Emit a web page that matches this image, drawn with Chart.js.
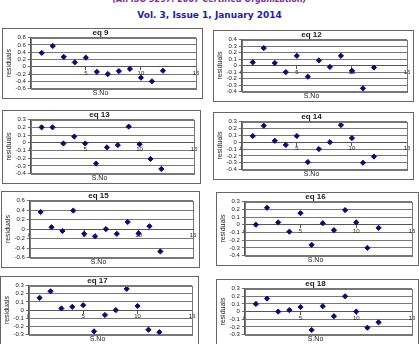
<!DOCTYPE html>
<html>
<head>
<meta charset="utf-8">
<script src="https://cdn.jsdelivr.net/npm/chart.js@4.4.0/dist/chart.umd.min.js"></script>
<style>
  body { margin: 0; width: 419px; height: 344px; overflow: hidden; background: #fff; position: relative; font-family: "DejaVu Sans", Verdana, sans-serif; }
  .hdr { position: absolute; left: 0; width: 419px; text-align: center; font-weight: bold; white-space: nowrap; }
  .box { position: absolute; border: 1px solid #666; background: #fff; box-sizing: border-box; }
  .box canvas { display: block; }
</style>
</head>
<body>
<div class="hdr" style="top:-5px;font-size:8px;color:#7b2c9c;font-style:italic">(An ISO 3297: 2007 Certified Organization)</div>
<div class="hdr" style="top:10px;font-size:9px;color:#1c1cb4">Vol. 3, Issue 1, January 2014</div>
<div id="panels"></div>
<script>
// serial numbers on the x axis
const sNo = [1, 2, 3, 4, 5, 6, 7, 8, 9, 10, 11, 12];
const xTicks = [0, 5, 10, 15];

// residuals per equation
const eq9 = [0.38, 0.57, 0.27, 0.12, 0.25, -0.14, -0.20, -0.12, -0.06, -0.30, -0.40, -0.11];
const eq12 = [0.05, 0.27, 0.04, -0.10, 0.15, -0.17, 0.08, -0.02, 0.15, -0.08, -0.35, -0.03];
const eq13 = [0.20, 0.20, -0.01, 0.08, -0.01, -0.27, -0.06, -0.03, 0.21, -0.02, -0.21, -0.34];
const eq14 = [0.09, 0.24, 0.02, -0.04, 0.09, -0.29, -0.10, 0.00, 0.25, 0.06, -0.30, -0.21];
const eq15 = [0.36, 0.04, -0.04, 0.39, -0.10, -0.15, 0.00, -0.10, 0.15, -0.09, 0.06, -0.47];
const eq16 = [0.00, 0.22, 0.03, -0.09, 0.15, -0.26, 0.02, -0.07, 0.19, 0.03, -0.30, -0.04];
const eq17 = [0.15, 0.23, 0.02, 0.04, 0.06, -0.26, -0.06, 0.00, 0.26, 0.05, -0.24, -0.27];
const eq18 = [0.10, 0.17, 0.00, 0.02, 0.06, -0.24, 0.07, -0.06, 0.20, 0.00, -0.21, -0.14];

// y axis ranges [min, max, step]
const yRanges = {
  eq9: [-0.6, 0.8, 0.2], eq12: [-0.4, 0.4, 0.1], eq13: [-0.4, 0.3, 0.1], eq14: [-0.4, 0.3, 0.1],
  eq15: [-0.6, 0.6, 0.2], eq16: [-0.4, 0.3, 0.1], eq17: [-0.3, 0.3, 0.1], eq18: [-0.3, 0.3, 0.1]
};

const panels = [
  { name: 'eq 9', key: 'eq9', values: eq9, box: [2, 28, 201, 71] },
  { name: 'eq 12', key: 'eq12', values: eq12, box: [213, 30, 201, 72] },
  { name: 'eq 13', key: 'eq13', values: eq13, box: [2, 110, 199, 74] },
  { name: 'eq 14', key: 'eq14', values: eq14, box: [213, 112, 201, 68] },
  { name: 'eq 15', key: 'eq15', values: eq15, box: [1, 191, 199, 77] },
  { name: 'eq 16', key: 'eq16', values: eq16, box: [216, 192, 203, 74] },
  { name: 'eq 17', key: 'eq17', values: eq17, box: [0, 276, 199, 69] },
  { name: 'eq 18', key: 'eq18', values: eq18, box: [216, 279, 203, 66] }
];

Chart.defaults.font.family = '"Liberation Sans", Arial, sans-serif';
Chart.defaults.color = '#222';
Chart.defaults.animation = false;

// thin grey frame round the plot area, like Excel
const plotFrame = {
  id: 'plotFrame',
  afterDraw(chart) {
    const a = chart.chartArea, ctx = chart.ctx;
    ctx.save();
    ctx.strokeStyle = '#777';
    ctx.lineWidth = 1;
    ctx.strokeRect(Math.round(a.left) + 0.5, Math.round(a.top) + 0.5, Math.round(a.right - a.left), Math.round(a.bottom - a.top));
    ctx.restore();
  }
};

const holder = document.getElementById('panels');
panels.forEach(p => {
  const [x, y, w, h] = p.box;
  const div = document.createElement('div');
  div.className = 'box';
  div.style.left = x + 'px';
  div.style.top = y + 'px';
  div.style.width = w + 'px';
  div.style.height = h + 'px';
  const cv = document.createElement('canvas');
  cv.width = w - 2;
  cv.height = h - 2;
  div.appendChild(cv);
  holder.appendChild(div);

  const [yMin, yMax, yStep] = yRanges[p.key];
  new Chart(cv.getContext('2d'), {
    type: 'scatter',
    data: {
      datasets: [{
        data: sNo.map((s, i) => ({ x: s, y: p.values[i] })),
        pointStyle: 'rectRot',
        pointRadius: 2.6,
        backgroundColor: '#0a0a78',
        borderColor: '#0a0a78'
      }]
    },
    options: {
      responsive: false,
      layout: { padding: { left: 2, right: 6, top: -2, bottom: 0 } },
      plugins: {
        legend: { display: false },
        tooltip: { enabled: false },
        title: { display: true, text: p.name, font: { size: 8, weight: 'bold' }, padding: { top: 1, bottom: 0 } },
        subtitle: { display: true, position: 'bottom', text: 'S.No', font: { size: 7 }, padding: { top: 0, bottom: 1 } }
      },
      scales: {
        x: {
          type: 'linear',
          position: { y: 0 },
          min: 0, max: 15,
          afterBuildTicks: s => { s.ticks = xTicks.map(v => ({ value: v })); },
          ticks: { font: { size: 6 }, padding: 0, maxRotation: 0, autoSkip: false },
          grid: { drawOnChartArea: false, drawTicks: true, tickLength: 3, color: '#555' },
          border: { color: '#555' }
        },
        y: {
          min: yMin, max: yMax,
          ticks: {
            stepSize: yStep, font: { size: 6 }, padding: 2, autoSkip: false,
            callback: v => { const r = Math.round(v * 10) / 10; return r === 0 ? '0' : r.toFixed(1); }
          },
          grid: { color: '#777', tickLength: 3 },
          border: { color: '#555' },
          title: { display: true, text: 'residuals', font: { size: 7 }, padding: 0 }
        }
      }
    },
    plugins: [plotFrame]
  });
});
</script>
</body>
</html>
